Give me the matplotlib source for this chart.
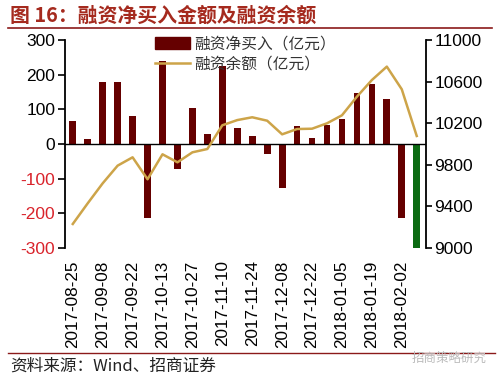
import matplotlib
matplotlib.use("Agg")
import matplotlib.pyplot as plt
from matplotlib.lines import Line2D
from matplotlib.patches import Patch

dates = ["2017-08-25", "2017-09-01", "2017-09-08", "2017-09-15", "2017-09-22", "2017-09-29",
         "2017-10-13", "2017-10-20", "2017-10-27", "2017-11-03", "2017-11-10", "2017-11-17",
         "2017-11-24", "2017-12-01", "2017-12-08", "2017-12-15", "2017-12-22", "2017-12-29",
         "2018-01-05", "2018-01-12", "2018-01-19", "2018-01-26", "2018-02-02", "2018-02-09"]
net_buy = [67, 14, 178, 178, 81, -213, 238, -73, 103, 29, 226, 45,
           24, -28, -127, 53, 18, 55, 72, 147, 173, 131, -213, -299]
balance = [9231, 9430, 9622, 9792, 9872, 9661, 9901, 9824, 9920, 9952, 10180, 10230,
           10257, 10224, 10093, 10144, 10147, 10199, 10276, 10455, 10615, 10744, 10526, 10077]
bar_colors = ["#650000"] * 23 + ["#0B6B12"]

SANS = ["Liberation Sans", "DejaVu Sans"]
CJK = ["Noto Sans CJK SC", "DejaVu Sans"]
RED = "#A52A1E"

fig = plt.figure(figsize=(4.99, 3.8), dpi=100)
ax = fig.add_axes([65/499, 1-248/380, (426-65)/499, (248-40)/380])
ax2 = ax.twinx()

x = list(range(len(net_buy)))
ax.bar(x, net_buy, width=0.45, color=bar_colors, zorder=2)
ax.axhline(0, color="black", lw=1.0, zorder=3)
ax2.plot(x, balance, color="#CDA449", lw=1.8, zorder=4)

ax.set_xlim(-0.52, 23.62)
ax.set_ylim(-300, 300)
ax2.set_ylim(9000, 11000)
ax.set_yticks([300, 200, 100, 0, -100, -200, -300])
ax.set_yticklabels(["300", "200", "100", "0", "-100", "-200", "-300"])
ax2.set_yticks([11000, 10600, 10200, 9800, 9400, 9000])
ax2.set_yticklabels(["11000", "10600", "10200", "9800", "9400", "9000"])
for lab in ax.get_yticklabels():
    lab.set_fontfamily(SANS)
    lab.set_fontsize(12.5)
    if lab.get_text().startswith("-"):
        lab.set_color("#D9232B")
for lab in ax2.get_yticklabels():
    lab.set_fontfamily(SANS)
    lab.set_fontsize(12.5)

ax.set_xticks(x[::2])
ax.set_xticklabels(dates[::2], rotation=90, fontfamily=SANS, fontsize=12.3)
ax.tick_params(axis="x", length=0, pad=9)
ax.tick_params(axis="y", direction="out", length=5, width=1.2, pad=2)
ax2.tick_params(axis="y", direction="out", length=4, width=1.2, pad=2)

for a in (ax, ax2):
    a.spines["top"].set_visible(False)
    a.spines["bottom"].set_visible(False)
ax.spines["right"].set_visible(False)
ax2.spines["left"].set_visible(False)
ax.spines["left"].set_linewidth(1.3)
ax2.spines["right"].set_linewidth(1.3)

handles = [Patch(color="#650000"), Line2D([0], [0], color="#CDA449", lw=1.8)]
leg = ax.legend(handles, ["融资净买入（亿元）", "融资余额（亿元）"], prop={"family": CJK, "size": 11.3},
                loc="upper left", bbox_to_anchor=(0.22, 1.075), frameon=False,
                handlelength=2.2, handleheight=0.85, handletextpad=0.3, labelspacing=0.2,
                borderpad=0.2)
for t in leg.get_texts():
    t.set_color("#333333")

# Title and lines
fig.text(10/499, 1-15/380, "图 16：融资净买入金额及融资余额", fontfamily=CJK, fontsize=14.3,
         fontweight="bold", color=RED, va="center", ha="left")
fig.add_artist(Line2D([8/499, 492/499], [1-28/380, 1-28/380], color="#8B1A1A", lw=1.2))
fig.add_artist(Line2D([8/499, 495/499], [1-353/380, 1-353/380], color="#8B1A1A", lw=1.0))
fig.text(10/499, 1-366/380, "资料来源：Wind、招商证券", fontfamily=CJK, fontsize=12,
         color="#222222", va="center", ha="left")
fig.text(412/499, 1-358/380, "招商策略研究", fontfamily=CJK, fontsize=9,
         color="#BBBBBB", va="center", ha="left")

fig.savefig("out.png", dpi=100)
